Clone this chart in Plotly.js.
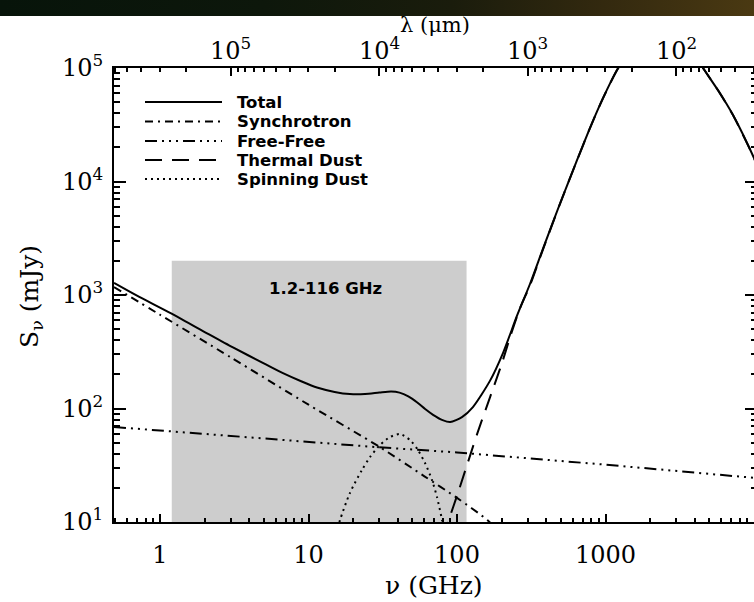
<!DOCTYPE html>
<html>
<head>
<meta charset="utf-8">
<script src="https://cdn.plot.ly/plotly-3.0.1.min.js"></script>
<style>
  html, body { margin:0; padding:0; width:754px; height:602px; overflow:hidden; background:#ffffff; }
  #plot { position:absolute; left:0; top:0; width:770px; height:602px; }
  #banner { position:absolute; left:0; top:0; width:754px; height:16px; z-index:10;
    background: linear-gradient(to right, #07140a 0%, #0d170b 35%, #1a1c0c 60%, #33290f 80%, #4a3912 100%); }
</style>
</head>
<body>
<div id="plot"></div>
<div id="banner"></div>
<script>
// ---------------- data ----------------
// frequencies in GHz, flux densities in mJy
const totalFreq = [0.49, 0.7, 1.17, 2, 3.1, 5, 6.73, 9, 11.4, 15, 19, 24, 30, 36, 41, 47, 54, 61, 69, 80, 90, 108, 128, 167, 204, 254, 310, 379, 494, 643, 787, 962, 1214, 1600, 2200, 3000, 3700, 4535, 5800, 7220, 10000, 12000];
const totalFlux = [1277, 985, 695, 472, 345, 250, 205, 173, 153, 140, 134, 134, 138, 141, 138, 128, 113, 99, 88, 79, 76, 84, 103, 176, 308, 660, 1250, 2550, 6400, 15400, 29700, 54200, 99300, 165000, 225000, 210000, 150000, 100000, 62000, 38500, 16100, 9000];

const synchFreq = [0.49, 1, 3, 10, 30, 60, 100, 160, 220];
const synchFlux = [1175, 670, 282, 108, 46, 25.4, 16.3, 10.4, 6.8];

const ffFreq = [0.49, 1, 10, 30, 100, 1000, 10000, 12000];
const ffFlux = [68.7, 64, 51, 45.5, 41, 32, 24.5, 24];

const dustFreq = [80, 87, 100, 138, 167, 201, 228, 266, 310, 379, 494, 643, 787, 962, 1214, 1600, 2200, 3000, 3700, 4535, 5800, 7220, 10000, 12000];
const dustFlux = [7.2, 10, 17, 62, 126, 252, 427, 768, 1215, 2515, 6365, 15370, 29670, 54170, 99270, 164970, 224970, 209970, 149970, 99970, 61970, 38475, 16075, 8975];

const spinFreq = [15, 16.3, 19, 22.9, 26, 30.3, 35.4, 41.3, 48.3, 54.6, 60.9, 67.9, 73.3, 79.3, 82];
const spinFlux = [7, 10.4, 18, 28.7, 37.4, 47.7, 56.1, 59.6, 52.7, 43, 33.1, 23.4, 16.6, 10.4, 8];

const bandFreq = [1.2, 116];      // shaded band edges (GHz)
const bandFlux = [10, 2000];      // shaded band bottom / top (mJy)
const bandLabel = "1.2-116 GHz";

const seriesNames = ["Total", "Synchrotron", "Free-Free", "Thermal Dust", "Spinning Dust"];
const seriesDash = ["solid", "8px,5px,2px,5px", "12px,5px,2px,5px,2px,5px,2px,5px", "17px,10px", "2px,4px"];

const xTickVals = [1, 10, 100, 1000];
const xTickText = ["1", "10", "100", "1000"];
const yTickVals = [10, 100, 1000, 10000, 100000];
const yTickText = ["10<sup>1</sup>", "10<sup>2</sup>", "10<sup>3</sup>", "10<sup>4</sup>", "10<sup>5</sup>"];
const lamTickExp = [5, 4, 3, 2];           // wavelength decades in micron
const C_UM_GHZ = 299792.458;              // c in micron*GHz

// ---------------- derived ticks ----------------
function minorLog(lo, hi) {
  const v = [];
  for (let e = lo; e <= hi; e++) for (let k = 2; k <= 9; k++) v.push(k * Math.pow(10, e));
  return v;
}
const xMinor = minorLog(-1, 4);
const yMinor = minorLog(0, 5);
const topTickVals = lamTickExp.map(e => C_UM_GHZ / Math.pow(10, e));
const topTickText = lamTickExp.map(e => "10<sup>" + e + "</sup>");
const topMinor = [];
for (let e = 1; e <= 6; e++) for (let k = 2; k <= 9; k++) topMinor.push(C_UM_GHZ / (k * Math.pow(10, e)));

// ---------------- layout constants ----------------
const L = 114, R = 757, T = 68, B = 522;
const PW = R - L, PH = B - T;
const px2paperX = p => (p - L) / PW;
const px2paperY = p => (B - p) / PH;

const traces = [];
// shaded band
traces.push({
  x: [bandFreq[0], bandFreq[1], bandFreq[1], bandFreq[0], bandFreq[0]],
  y: [bandFlux[0], bandFlux[0], bandFlux[1], bandFlux[1], bandFlux[0]],
  mode: "lines", fill: "toself", fillcolor: "#cdcdcd",
  line: { width: 0, color: "#cdcdcd" }, hoverinfo: "skip", showlegend: false
});
const sx = [totalFreq, synchFreq, ffFreq, dustFreq, spinFreq];
const sy = [totalFlux, synchFlux, ffFlux, dustFlux, spinFlux];
for (let i = 4; i >= 0; i--) {
  traces.push({
    x: sx[i], y: sy[i], mode: "lines", name: seriesNames[i],
    line: { color: "#000000", width: 2, dash: seriesDash[i], shape: (i === 2 ? "linear" : "spline"), smoothing: 0.7 },
    showlegend: false
  });
}
// dummy trace for top (wavelength) axis
traces.push({ x: [1, 1000], y: [100, 100], xaxis: "x2", mode: "markers", marker: { opacity: 0 }, hoverinfo: "skip", showlegend: false });

const serif = "DejaVu Serif";
const tickFont = { family: serif, size: 24, color: "#000" };
const boldSans = { family: "DejaVu Sans", size: 16.5, color: "#000", weight: "bold" };

const shapes = [];
const annotations = [];
const legendRows = [102, 121.5, 141, 160, 179];
for (let i = 0; i < 5; i++) {
  shapes.push({
    type: "line", xref: "paper", yref: "paper",
    x0: px2paperX(145), x1: px2paperX(222), y0: px2paperY(legendRows[i]), y1: px2paperY(legendRows[i]),
    line: { color: "#000", width: 2, dash: seriesDash[i] }
  });
  annotations.push({
    xref: "paper", yref: "paper", x: px2paperX(235), y: px2paperY(legendRows[i]),
    xanchor: "left", yanchor: "middle", showarrow: false, text: seriesNames[i], font: boldSans
  });
}
// top-axis (wavelength) tick labels
for (let i = 0; i < topTickVals.length; i++) {
  annotations.push({
    xref: "x2", yref: "paper", x: Math.log10(topTickVals[i]), y: px2paperY(49),
    xanchor: "center", yanchor: "middle", showarrow: false, text: topTickText[i], font: tickFont
  });
}
annotations.push({
  xref: "x", yref: "y", x: Math.log10(13.1), y: Math.log10(1130), showarrow: false,
  text: bandLabel, font: boldSans
});
annotations.push({
  xref: "paper", yref: "paper", x: px2paperX(434), y: px2paperY(585), showarrow: false,
  xanchor: "center", yanchor: "middle", text: "ν (GHz)", font: { family: serif, size: 25, color: "#000" }
});
annotations.push({
  xref: "paper", yref: "paper", x: px2paperX(31), y: px2paperY(297), showarrow: false, textangle: -90,
  xanchor: "center", yanchor: "middle", text: "S<sub>ν</sub> (mJy)", font: { family: serif, size: 25, color: "#000" }
});
annotations.push({
  xref: "paper", yref: "paper", x: px2paperX(435), y: px2paperY(25), showarrow: false,
  xanchor: "center", yanchor: "middle", text: "λ (μm)", font: { family: serif, size: 21, color: "#000" }
});

const xr = [(L - 160) / 148.5, (R - 160) / 148.5];

const layout = {
  width: 770, height: 602,
  margin: { l: L, r: 770 - R, t: T, b: 602 - B, pad: 0 },
  paper_bgcolor: "#ffffff", plot_bgcolor: "#ffffff",
  showlegend: false,
  xaxis: {
    type: "log", range: xr, showgrid: false, zeroline: false,
    showline: true, linecolor: "#000", linewidth: 2, mirror: false,
    ticks: "inside", ticklen: 8, tickwidth: 2, tickcolor: "#000",
    tickmode: "array", tickvals: xTickVals, ticktext: xTickText, tickfont: tickFont,
    ticklabelstandoff: 10,
    minor: { tickmode: "array", tickvals: xMinor, ticks: "inside", ticklen: 4, tickwidth: 2, tickcolor: "#000", showgrid: false }
  },
  xaxis2: {
    type: "log", range: xr, overlaying: "x", side: "top", anchor: "y", showgrid: false, zeroline: false,
    showline: true, linecolor: "#000", linewidth: 2,
    ticks: "inside", ticklen: 8, tickwidth: 2, tickcolor: "#000",
    tickmode: "array", tickvals: topTickVals, ticktext: topTickText, showticklabels: false,
    minor: { tickmode: "array", tickvals: topMinor, ticks: "inside", ticklen: 4, tickwidth: 2, tickcolor: "#000", showgrid: false }
  },
  yaxis: {
    type: "log", range: [1, 5], showgrid: false, zeroline: false,
    showline: true, linecolor: "#000", linewidth: 2, mirror: "ticks",
    ticks: "inside", ticklen: 12, tickwidth: 2, tickcolor: "#000",
    tickmode: "array", tickvals: yTickVals, ticktext: yTickText, tickfont: tickFont,
    ticklabelstandoff: 4,
    minor: { tickmode: "array", tickvals: yMinor, ticks: "inside", ticklen: 6, tickwidth: 2, tickcolor: "#000", showgrid: false }
  },
  shapes: shapes,
  annotations: annotations
};

Plotly.newPlot("plot", traces, layout, { displayModeBar: false, staticPlot: true });
</script>
</body>
</html>
